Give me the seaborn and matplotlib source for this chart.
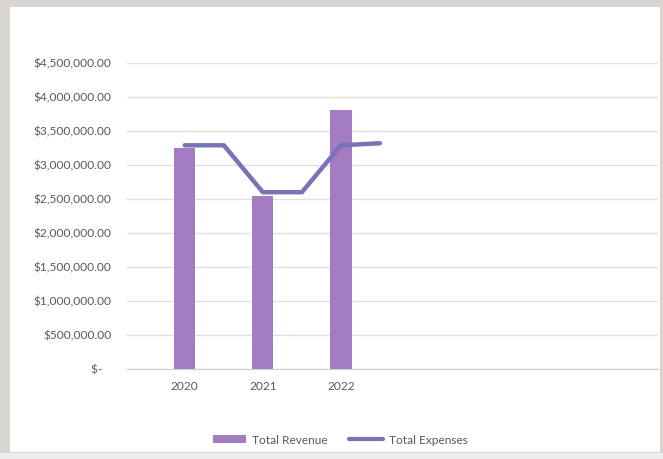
import numpy as np
import matplotlib
matplotlib.use("Agg")
import matplotlib.pyplot as plt
from matplotlib.patches import Rectangle, Patch
from matplotlib.lines import Line2D
from matplotlib.ticker import FuncFormatter
import seaborn as sns

years = ["2020", "2021", "2022"]
revenue = [3250000, 2540000, 3810000]
# expenses are plotted at half-year steps
expenses = [3290000, 3290000, 2600000, 2600000, 3290000, 3320000]
y_ticks = [0, 500000, 1000000, 1500000, 2000000, 2500000, 3000000,
           3500000, 4000000, 4500000]

sns.set_style("white")
plt.rcParams["font.family"] = ["Lato", "DejaVu Sans"]

W, H = 663, 459
fig = plt.figure(figsize=(W / 100, H / 100), dpi=100)
fig.patch.set_facecolor("#d9d5d0")
# white sheet inside the screenshot border
fig.patches.append(Rectangle((10 / W, 1 - 452 / H), 650 / W, 445 / H,
                             transform=fig.transFigure, facecolor="white",
                             edgecolor="none", zorder=-5))
fig.patches.append(Rectangle((0, 0), 1, 1 - 453 / H,
                             transform=fig.transFigure, facecolor="#eeeeee",
                             edgecolor="none", zorder=-5))

ax = fig.add_axes([127 / W, 1 - 369 / H, (658 - 127) / W, (369 - 63) / H])
ax.set_facecolor("none")

sns.barplot(x=years, y=revenue, color="#a47cc4", width=0.27, saturation=1,
            ax=ax, zorder=2)
for bar in ax.patches:
    bar.set_edgecolor("none")

exp_x = np.arange(len(expenses)) / 2
sns.lineplot(x=exp_x, y=expenses, color="#7872ba", linewidth=3.2, ax=ax,
             zorder=3, errorbar=None, sort=False)
for ln in ax.lines:
    ln.set_solid_capstyle("round")
    ln.set_solid_joinstyle("round")

ax.set_xlim(-0.74, 6.06)
ax.set_ylim(0, 4500000)
ax.set_yticks(y_ticks)


def money(v, pos):
    if v == 0:
        return "$-   "
    return "${:,.2f}".format(v)


ax.yaxis.set_major_formatter(FuncFormatter(money))
ax.set_xticks(range(len(years)))
ax.set_xticklabels(years)
ax.grid(axis="y", color="#e0e0e0", linewidth=1)
ax.set_axisbelow(True)
for side in ["top", "right", "left"]:
    ax.spines[side].set_visible(False)
ax.spines["bottom"].set_color("#d0d0d0")
ax.tick_params(axis="y", length=0, pad=11, labelsize=8.6, labelcolor="#595959")
ax.tick_params(axis="x", length=0, pad=9, labelsize=8.6, labelcolor="#595959")
ax.set_xlabel("")
ax.set_ylabel("")

handles = [Patch(facecolor="#a47cc4", edgecolor="none"),
           Line2D([0], [0], color="#7872ba", linewidth=3)]
fig.legend(handles, ["Total Revenue", "Total Expenses"], loc="center",
           bbox_to_anchor=(340 / W, 1 - 440 / H), ncol=2, frameon=False,
           fontsize=8.6, labelcolor="#595959", handlelength=2.8,
           handleheight=0.6, columnspacing=1.8, handletextpad=0.5)

fig.savefig("out.png", dpi=100, facecolor=fig.get_facecolor())
